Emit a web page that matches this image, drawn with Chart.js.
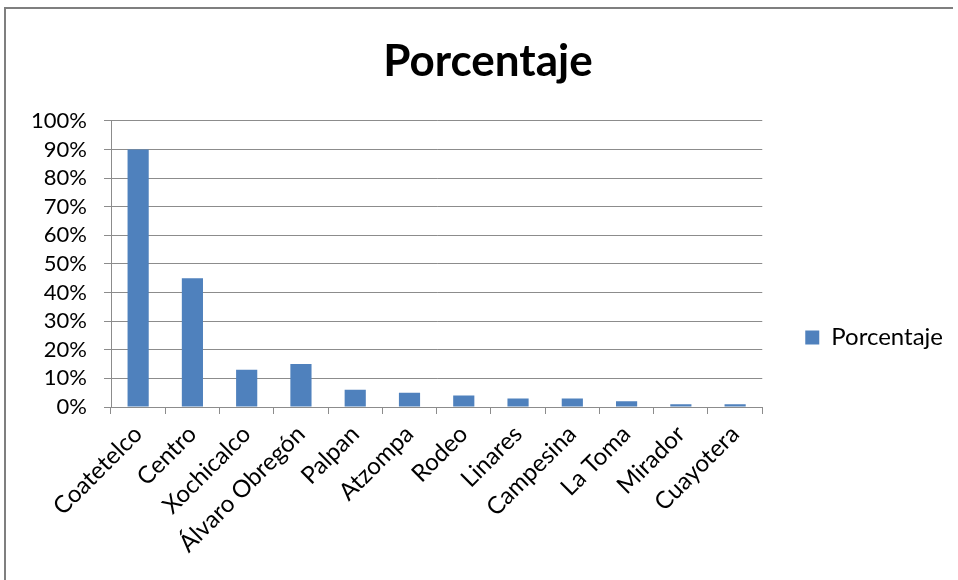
<!DOCTYPE html>
<html>
<head>
<meta charset="utf-8">
<script src="https://cdn.jsdelivr.net/npm/chart.js@4.4.0/dist/chart.umd.min.js"></script>
<style>
  html, body { margin: 0; padding: 0; background: #fff; overflow: hidden; }
  #wrap { width: 953px; height: 580px; position: relative; }
</style>
</head>
<body>
<div id="wrap"><canvas id="chart"></canvas></div>
<script>
const categories = ['Coatetelco', 'Centro', 'Xochicalco', 'Álvaro Obregón', 'Palpan', 'Atzompa',
  'Rodeo', 'Linares', 'Campesina', 'La Toma', 'Mirador', 'Cuayotera'];
const porcentaje = [90, 45, 13, 15, 6, 5, 4, 3, 3, 2, 1, 1];
const seriesName = 'Porcentaje';
const chartTitle = 'Porcentaje';

const FONT = 'Lato, "Open Sans", sans-serif';
const GRID = '#8c8c8c';
const BAR = '#4f81bd';

// outer frame of the chart object (right and bottom edges fall outside the window)
const framePlugin = {
  id: 'frame',
  beforeDraw(chart) {
    const ctx = chart.ctx;
    ctx.save();
    ctx.fillStyle = '#fff';
    ctx.fillRect(0, 0, chart.width, chart.height);
    ctx.strokeStyle = '#7f7f7f';
    ctx.lineWidth = 2;
    ctx.strokeRect(5, 8, chart.width + 40, chart.height + 20);
    ctx.restore();
  }
};

const ctx = document.getElementById('chart').getContext('2d');
new Chart(ctx, {
  type: 'bar',
  data: {
    labels: categories,
    datasets: [{
      label: seriesName,
      data: porcentaje,
      backgroundColor: BAR,
      barPercentage: 0.39,
      categoryPercentage: 1
    }]
  },
  options: {
    responsive: true,
    maintainAspectRatio: false,
    animation: false,
    layout: { padding: { left: 23, top: 8, right: 0, bottom: 0 } },
    plugins: {
      legend: {
        position: 'right',
        align: 'center',
        // blank legend title only pushes the entry down to where Excel puts it
        title: { display: true, text: ' ', font: { size: 1 }, padding: { top: 86, bottom: 0 } },
        labels: {
          color: '#000',
          boxWidth: 14,
          boxHeight: 14,
          padding: 43,
          font: { family: FONT, size: 24 }
        }
      },
      tooltip: { enabled: false },
      title: {
        display: true,
        text: chartTitle,
        color: '#000',
        font: { family: FONT, size: 44, weight: 'bold' },
        padding: { top: 27, bottom: 33 }
      }
    },
    scales: {
      x: {
        grid: { display: true, drawOnChartArea: false, offset: true, tickLength: 7, color: GRID },
        border: { color: GRID },
        ticks: {
          color: '#000',
          font: { family: FONT, size: 24 },
          maxRotation: 45,
          minRotation: 45,
          autoSkip: false,
          padding: 6
        },
        afterFit(scale) { scale.height = 173; }
      },
      y: {
        min: 0,
        max: 100,
        grid: { color: GRID, tickLength: 7 },
        border: { color: GRID },
        ticks: {
          stepSize: 10,
          autoSkip: false,
          color: '#000',
          padding: 17,
          font: { family: FONT, size: 22 },
          callback: v => v + '%'
        },
        afterFit(scale) { scale.width = 88; }
      }
    }
  },
  plugins: [framePlugin]
});
</script>
</body>
</html>
